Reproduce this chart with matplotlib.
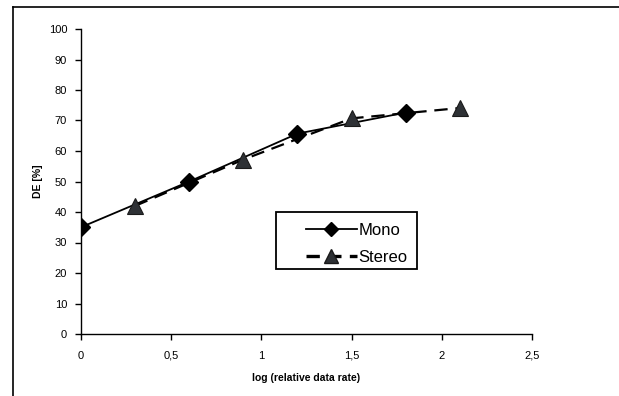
import matplotlib
matplotlib.use("Agg")
import matplotlib.pyplot as plt
from matplotlib.lines import Line2D
from matplotlib.patches import Rectangle

plt.rcParams['font.family'] = ['Liberation Sans', 'DejaVu Sans']

# Data
mono_x = [0.0, 0.6, 1.2, 1.8]
mono_de = [35, 50, 65.7, 72.6]
stereo_x = [0.3, 0.9, 1.5, 2.1]
stereo_de = [42, 57.2, 70.7, 74.1]

x_ticks = [0, 0.5, 1, 1.5, 2, 2.5]
x_tick_labels = ["0", "0,5", "1", "1,5", "2", "2,5"]
y_ticks = [0, 10, 20, 30, 40, 50, 60, 70, 80, 90, 100]

fig = plt.figure(figsize=(6.19, 3.96), dpi=100)
ax = fig.add_axes([81 / 619, 62 / 396, 451 / 619, 305 / 396])

ax.plot(mono_x, mono_de, color='black', linewidth=1.3, marker='D',
        markersize=9.5, markerfacecolor='black', markeredgecolor='black',
        label='Mono', zorder=3)
ax.plot(stereo_x, stereo_de, color='black', linewidth=1.6,
        linestyle=(0, (6, 3.5)), marker='^', markersize=12,
        markerfacecolor='#2e3135', markeredgecolor='#1a1a1a',
        markeredgewidth=0.8, label='Stereo', zorder=3)

ax.set_xlim(0, 2.5)
ax.set_ylim(0, 100)
ax.set_xticks(x_ticks)
ax.set_xticklabels(x_tick_labels)
ax.set_yticks(y_ticks)

for side in ('top', 'right'):
    ax.spines[side].set_visible(False)
for side in ('left', 'bottom'):
    ax.spines[side].set_linewidth(1.0)
    ax.spines[side].set_color('black')

ax.tick_params(axis='both', direction='out', length=4, width=1.0,
               labelsize=8, colors='black')
ax.tick_params(axis='y', pad=6)
ax.tick_params(axis='x', pad=8)

ax.set_xlabel('log (relative data rate)', fontsize=7.5, fontweight='bold',
              labelpad=9)
ax.set_ylabel('DE [%]', fontsize=7.5, fontweight='bold', labelpad=4)

# Legend: entries without their own frame, boxed by a separate rectangle
handles = [
    Line2D([], [], color='black', linewidth=1.3, marker='D', markersize=7,
           markerfacecolor='black'),
    Line2D([], [], color='black', linewidth=2.4, linestyle=(0, (4, 2.5)),
           marker='^', markersize=10, markerfacecolor='#2e3135',
           markeredgecolor='#1a1a1a'),
]
leg = ax.legend(handles, ['Mono', 'Stereo'], loc='center left',
                bbox_to_anchor=(0.499, 0.295), fontsize=12, frameon=False,
                handlelength=3.05, handletextpad=0.08, borderpad=0,
                labelspacing=0.75, borderaxespad=0)
ax.add_patch(Rectangle((0.432, 0.213), 0.313, 0.187, transform=ax.transAxes,
                       fill=False, edgecolor='black', linewidth=1.3,
                       zorder=4, clip_on=False))

# Outer frame around the chart
fig.add_artist(Line2D([13 / 619, 13 / 619], [0, 1 - 7 / 396],
                      transform=fig.transFigure, color='black', linewidth=1.2))
fig.add_artist(Line2D([13 / 619, 1], [1 - 7 / 396, 1 - 7 / 396],
                      transform=fig.transFigure, color='black', linewidth=1.2))

fig.savefig('out.png', dpi=100)
